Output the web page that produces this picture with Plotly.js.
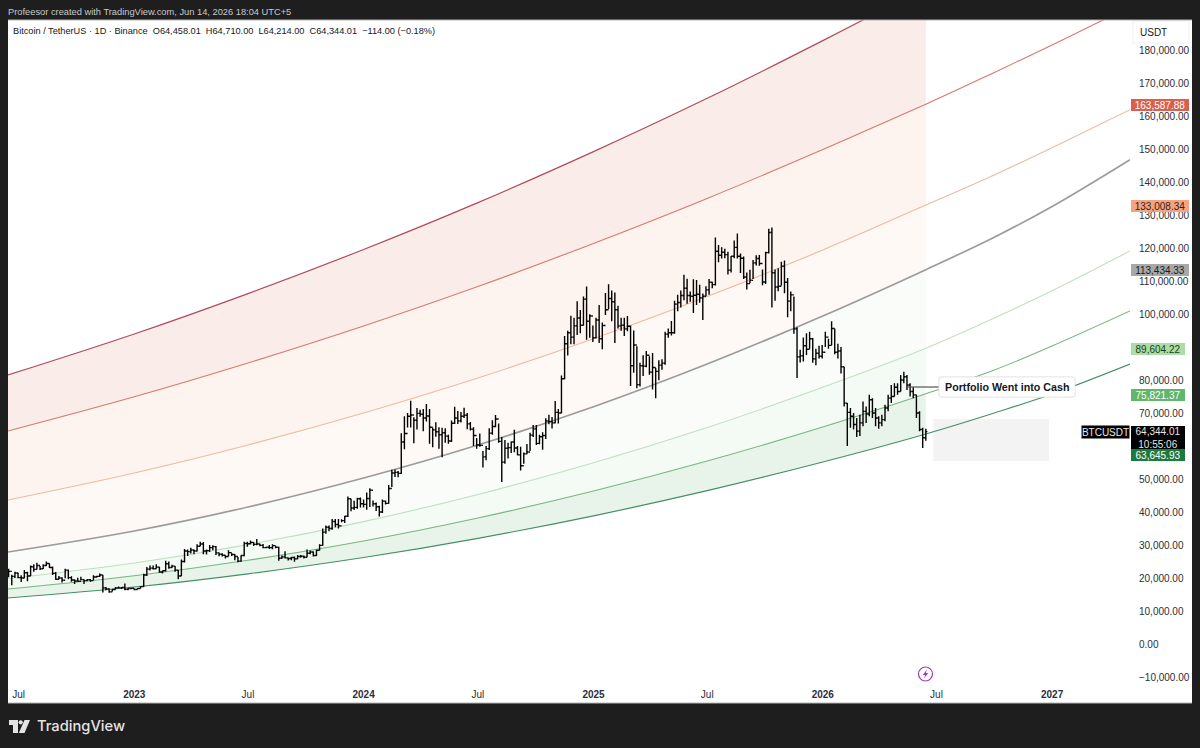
<!DOCTYPE html>
<html><head><meta charset="utf-8">
<script src="https://cdn.plot.ly/plotly-3.0.1.min.js"></script>
<style>html,body{margin:0;padding:0;background:#1e1e1e}#c{width:1200px;height:748px}</style></head>
<body><div id="c"></div>
<script>
// ---- channel curves ----
const curveDates = ['2022-06-14','2023-01-01','2023-07-01','2024-01-01','2024-07-01','2025-01-01','2025-07-01','2026-01-01','2026-06-14','2026-10-01','2027-01-01','2027-05-05'];
const bandTop    = [81515,93939,106182,119545,133758,149212,165363,182848,199091,210303,220212,233848];
const bandRed    = [64545,74909,85151,96363,108333,121394,135030,149818,163587.88,173212,181515,193151];
const bandOrange = [43636,51818,60303,70000,80606,92485,105272,119393,133008.34,142121,150393,161909];
const bandGray   = [27878,34242,41515,50303,60303,71909,84848,99393,113434.33,123272,132575,146757];
const bandLight  = [19788,24545,30121,37090,45303,54909,65606,77787,89604.22,98787,107060,119090];
const bandGreen  = [16666,20666,25363,31212,38181,46363,55454,65757,75821.37,83030,90303,100909];
const bandBottom = [13939,17272,21272,26212,32030,38848,46454,55151,63645.93,70000,75757,84848];
const lastBarIndex = 8;

// ---- BTCUSDT, one bar per 5 days from 2022-06-15, USD thousands ----
const barStart = '2022-06-15';
const opensK = [
22.3,22.0,20.5,21.5,20.1,20.0,21.6,20.6,23.4,22.6,
23.8,22.8,23.8,24.4,23.2,21.4,19.6,20.0,19.3,22.4,
20.1,19.4,19.1,19.0,19.5,19.2,19.5,19.2,20.3,20.5,
20.9,17.0,16.7,15.8,16.5,17.0,17.0,17.1,16.6,16.8,
16.9,16.5,16.8,17.4,20.9,22.7,23.0,22.8,23.3,21.8,
22.2,24.3,23.2,23.6,22.4,20.6,25.0,28.2,28.0,28.5,
28.2,29.6,30.3,28.2,28.3,29.2,29.5,27.6,27.2,26.9,
26.5,27.7,27.1,26.5,25.1,26.8,30.5,30.4,30.8,30.2,
30.3,29.9,29.2,29.3,29.2,29.8,29.3,26.0,26.4,26.1,
25.9,26.2,25.8,26.5,26.6,26.3,27.5,27.9,26.8,28.4,
29.9,33.9,35.4,35.0,37.1,36.2,35.8,37.4,38.7,44.0,
41.2,41.4,44.0,42.5,42.3,44.1,46.6,42.5,41.6,40.0,
43.3,42.6,47.1,51.8,52.0,51.7,61.2,63.8,69.0,69.4,
67.8,69.9,69.6,68.5,69.1,65.7,64.9,64.3,63.4,64.0,
63.0,61.5,66.9,68.5,67.6,69.0,69.3,66.7,65.1,63.2,
60.3,60.2,56.7,59.2,63.9,65.9,68.2,61.4,55.1,59.3,
59.5,61.2,59.4,57.3,54.0,57.6,58.2,63.3,65.2,60.8,
62.8,63.2,67.6,67.4,67.0,70.2,70.0,80.4,91.0,94.3,
93.0,96.4,98.8,96.6,104.5,97.8,99.4,92.8,98.2,92.5,
96.5,101.3,104.7,103.7,101.3,96.4,96.6,95.5,96.3,84.3,
90.6,78.6,84.3,84.2,87.5,82.4,83.8,82.6,84.5,85.1,
93.9,94.3,94.3,103.0,103.5,105.6,107.8,105.6,105.4,105.7,
106.0,104.9,105.4,107.3,109.6,108.9,119.0,117.8,118.7,118.0,
113.3,117.5,120.2,117.5,116.9,111.2,109.2,110.2,115.5,116.8,
115.3,109.7,118.6,124.7,112.5,108.2,108.4,114.5,109.6,103.9,
105.8,95.5,87.0,87.3,90.4,89.3,92.5,86.4,88.1,87.2,
88.4,93.0,90.5,95.6,88.4,88.8,84.0,73.0,70.2,69.0,
66.5,64.5,67.0,70.5,69.7,74.0,70.0,68.5,67.0,68.0,
71.5,74.5,75.0,77.8,76.5,80.0,81.0,78.5,76.5,75.5,
70.0,65.0,62.5];
const highsK = [
22.8,21.0,21.9,21.6,20.8,22.4,21.9,23.8,24.2,24.6,
23.6,24.2,25.0,24.4,23.5,21.8,20.6,20.2,22.8,22.6,
20.5,19.6,20.1,20.4,19.6,19.7,19.7,20.8,20.7,21.4,
20.9,17.3,16.9,16.7,17.3,17.4,17.3,18.3,16.9,16.9,
16.8,16.9,17.5,21.3,23.3,23.8,23.8,24.2,23.4,22.3,
25.2,25.0,24.0,23.6,22.4,25.6,28.8,28.6,29.2,28.6,
30.2,31.0,30.9,28.6,30.0,29.9,29.7,27.7,27.5,26.9,
28.4,27.5,27.3,26.4,26.9,31.0,31.0,31.4,30.9,31.8,
30.4,30.3,29.5,30.0,30.2,29.6,29.5,26.8,28.1,26.2,
26.4,26.5,27.0,27.0,26.8,28.6,28.3,28.0,28.6,30.2,
35.0,35.9,35.9,37.9,37.9,37.9,37.8,38.8,44.7,44.0,
43.4,44.3,44.4,43.8,45.9,47.2,43.5,42.9,41.9,43.8,
43.5,48.2,52.8,52.9,52.4,63.9,69.0,70.0,73.7,68.7,
71.5,71.0,71.2,72.7,71.2,65.5,67.2,65.7,65.5,65.4,
63.4,67.7,71.9,70.6,70.3,71.6,70.0,67.3,65.7,62.4,
63.8,58.5,60.0,65.4,67.8,69.4,66.8,62.7,61.8,61.0,
61.4,64.9,60.0,59.8,58.0,60.6,64.0,66.4,66.4,63.4,
64.2,68.4,69.5,68.8,73.6,71.2,81.4,93.3,94.9,99.5,
98.9,103.9,101.2,105.3,108.3,99.9,96.5,98.9,102.7,97.4,
106.4,109.0,107.1,106.5,102.5,98.9,98.9,99.4,96.5,95.0,
90.2,85.2,87.5,88.8,87.2,88.2,83.6,86.0,86.3,94.6,
95.6,97.9,104.0,105.8,107.1,111.9,110.7,106.8,110.5,110.3,
108.9,106.2,108.4,110.6,109.8,123.2,120.9,120.2,119.8,118.9,
117.6,122.3,124.4,118.3,117.4,112.6,113.4,116.4,117.8,117.9,
113.5,118.9,125.8,126.2,113.5,113.9,115.8,116.2,110.9,106.8,
105.3,96.0,89.2,92.9,94.2,94.6,92.7,89.5,90.4,90.6,
94.6,92.5,97.8,95.5,91.0,90.0,84.0,73.0,71.5,70.0,
68.5,69.5,73.5,72.0,75.5,74.5,71.5,69.0,69.5,72.5,
75.5,78.5,79.0,79.0,81.5,82.5,81.5,79.0,77.8,75.5,
70.5,65.5,65.2];
const lowsK = [
20.2,17.8,20.0,19.9,18.8,19.9,19.0,20.6,21.9,22.6,
22.4,22.7,23.6,23.0,20.9,19.5,19.6,18.6,19.9,19.6,
18.9,18.2,18.9,19.3,18.2,19.0,18.9,19.3,20.1,20.3,
15.6,16.3,15.5,15.9,16.5,16.8,16.7,16.3,16.3,16.6,
16.3,16.5,16.9,17.3,20.6,22.3,22.6,22.8,21.6,21.4,
22.0,22.8,23.0,21.9,19.6,20.6,24.7,26.7,27.4,27.2,
28.0,29.6,27.2,27.1,27.9,28.4,27.0,26.6,26.5,25.9,
26.5,26.7,25.4,24.8,24.9,26.6,29.5,30.2,29.7,29.9,
29.6,29.0,29.0,28.8,28.7,29.0,25.2,25.8,25.9,25.3,
25.4,24.9,25.7,26.1,25.9,26.3,27.2,26.5,26.7,28.3,
29.8,33.4,34.2,34.6,35.4,35.0,36.9,36.7,38.5,40.2,
40.6,41.0,41.4,41.4,40.7,41.5,41.7,40.3,38.6,39.7,
42.3,42.5,47.6,50.6,50.5,51.5,59.0,65.6,65.6,60.8,
65.0,68.9,64.5,67.4,60.7,59.6,62.8,59.2,56.6,61.0,
60.7,61.2,66.7,66.7,67.1,68.5,65.1,64.7,60.0,59.2,
59.8,53.5,55.7,58.8,63.4,65.7,61.0,49.1,54.6,56.2,
57.9,58.1,57.2,52.6,54.6,57.5,58.5,62.7,60.3,60.5,
58.9,62.1,66.6,65.3,66.8,66.8,69.9,80.2,87.4,90.8,
90.8,93.6,94.2,96.5,92.2,92.8,91.5,92.6,91.2,89.3,
99.7,101.5,97.8,91.2,95.6,94.9,93.3,94.8,78.2,82.2,
77.5,78.0,81.2,83.9,81.6,77.1,74.5,79.9,83.1,84.6,
92.8,93.5,94.0,100.8,102.0,104.2,103.1,103.7,100.3,102.7,
103.4,98.2,105.4,105.8,107.8,108.6,115.7,116.8,116.9,112.0,
112.6,116.9,116.8,112.4,110.6,107.4,109.3,110.6,114.7,114.6,
108.7,109.1,118.3,102.0,104.0,106.9,108.6,106.3,99.0,100.8,
94.0,80.6,85.3,85.6,87.6,89.5,85.2,84.5,86.5,86.5,
90.0,89.5,90.5,87.8,86.5,82.0,72.0,60.0,65.5,65.0,
62.7,63.0,66.0,67.0,69.0,68.5,66.0,65.2,66.0,67.5,
70.5,73.0,75.0,75.5,76.5,79.0,77.0,75.0,74.5,68.5,
64.5,59.4,61.6];
const closesK = [
22.0,20.5,21.5,20.1,20.0,21.6,20.6,23.4,22.6,23.8,
22.8,23.8,24.4,23.2,21.4,19.6,20.0,19.3,22.4,20.1,
19.4,19.1,19.0,19.5,19.2,19.5,19.2,20.3,20.5,20.9,
17.0,16.7,15.8,16.5,17.0,17.0,17.1,16.6,16.8,16.9,
16.5,16.8,17.4,20.9,22.7,23.0,22.8,23.3,21.8,22.2,
24.3,23.2,23.6,22.4,20.6,25.0,28.2,28.0,28.5,28.2,
29.6,30.3,28.2,28.3,29.2,29.5,27.6,27.2,26.9,26.5,
27.7,27.1,26.5,25.1,26.8,30.5,30.4,30.8,30.2,30.3,
29.9,29.2,29.3,29.2,29.8,29.3,26.0,26.4,26.1,25.9,
26.2,25.8,26.5,26.6,26.3,27.5,27.9,26.8,28.4,29.9,
33.9,35.4,35.0,37.1,36.2,35.8,37.4,38.7,44.0,41.2,
41.4,44.0,42.5,42.3,44.1,46.6,42.5,41.6,40.0,43.3,
42.6,47.1,51.8,52.0,51.7,61.2,63.8,69.0,69.4,67.8,
69.9,69.6,68.5,69.1,65.7,64.9,64.3,63.4,64.0,63.0,
61.5,66.9,68.5,67.6,69.0,69.3,66.7,65.1,63.2,60.3,
60.2,56.7,59.2,63.9,65.9,68.2,61.4,55.1,59.3,59.5,
61.2,59.4,57.3,54.0,57.6,58.2,63.3,65.2,60.8,62.8,
63.2,67.6,67.4,67.0,70.2,70.0,80.4,91.0,94.3,93.0,
96.4,98.8,96.6,104.5,97.8,99.4,92.8,98.2,92.5,96.5,
101.3,104.7,103.7,101.3,96.4,96.6,95.5,96.3,84.3,90.6,
78.6,84.3,84.2,87.5,82.4,83.8,82.6,84.5,85.1,93.9,
94.3,94.3,103.0,103.5,105.6,107.8,105.6,105.4,105.7,106.0,
104.9,105.4,107.3,109.6,108.9,119.0,117.8,118.7,118.0,113.3,
117.5,120.2,117.5,116.9,111.2,109.2,110.2,115.5,116.8,115.3,
109.7,118.6,124.7,112.5,108.2,108.4,114.5,109.6,103.9,105.8,
95.5,87.0,87.3,90.4,89.3,92.5,86.4,88.1,87.2,88.4,
93.0,90.5,95.6,88.4,88.8,84.0,73.0,70.2,69.0,66.5,
64.5,67.0,70.5,69.7,74.0,70.0,68.5,67.0,68.0,71.5,
74.5,75.0,77.8,76.5,80.0,81.0,78.5,76.5,75.5,70.0,
65.0,62.5,64.344];

// ---- axis ticks ----
const yTickVals = [-10000,0,10000,20000,30000,40000,50000,70000,80000,100000,110000,120000,130000,140000,150000,160000,170000,180000];
const yTickText = ['\u221210,000.00','0.00','10,000.00','20,000.00','30,000.00','40,000.00','50,000.00','70,000.00','80,000.00','100,000.00','110,000.00','120,000.00','130,000.00','140,000.00','150,000.00','160,000.00','170,000.00','180,000.00'];
const xTickVals = ['2022-07-01','2023-01-01','2023-07-01','2024-01-01','2024-07-01','2025-01-01','2025-07-01','2026-01-01','2026-07-01','2027-01-01'];
const xTickText = ['Jul','<b>2023</b>','Jul','<b>2024</b>','Jul','<b>2025</b>','Jul','<b>2026</b>','Jul','<b>2027</b>'];

// ---- texts ----
const headerText = 'Profeesor created with TradingView.com, Jun 14, 2026 18:04 UTC+5';
const legendText = 'Bitcoin / TetherUS \u00b7 1D \u00b7 Binance  O64,458.01  H64,710.00  L64,214.00  C64,344.01  \u2212114.00 (\u22120.18%)';
const calloutText = 'Portfolio Went into Cash';

// ---- layout helpers ----
const W=1200,H=748,L=8,R=1130,T=20,B=703;
const px=x=>(x-L)/(R-L), py=y=>1-(y-T)/(B-T);
const FONT='"Liberation Sans", Arial, sans-serif';
const dates=closesK.map((_,i)=>{const d=new Date(barStart+'T00:00:00Z');d.setUTCDate(d.getUTCDate()+5*i);return d.toISOString().slice(0,10);});
const k=a=>a.map(v=>v*1000);

const lastD=curveDates.slice(0,lastBarIndex+1);
const bandFills=[[bandBottom,null],[bandGreen,'#e8f4ea'],[bandLight,'#f4faf4'],[bandGray,'#f9fcf9'],[bandOrange,'#fff9f5'],[bandRed,'#fef4ef'],[bandTop,'#f9ece9']];
const traces=[];
bandFills.forEach(([arr,col])=>traces.push({x:lastD,y:arr.slice(0,lastBarIndex+1),type:'scatter',mode:'lines',
  line:{width:0,shape:'spline',smoothing:1},fill:col?'tonexty':'none',fillcolor:col||undefined,hoverinfo:'skip',showlegend:false}));
[[bandTop,'#b04a5e',1.2],[bandRed,'#d9776f',1.1],[bandOrange,'#eeb9a2',1.1],[bandGray,'#9b9b9b',1.7],[bandLight,'#c0e0c0',1.1],[bandGreen,'#79b582',1.1],[bandBottom,'#468f66',1.2]]
 .forEach(([arr,col,w])=>traces.push({x:curveDates,y:arr,type:'scatter',mode:'lines',line:{color:col,width:w,shape:'spline',smoothing:1},hoverinfo:'skip',showlegend:false}));
traces.push({x:dates,open:k(opensK),high:k(highsK),low:k(lowsK),close:k(closesK),type:'ohlc',xaxis:'x2',yaxis:'y2',tickwidth:0.5,
  increasing:{line:{color:'#000',width:1.4}},decreasing:{line:{color:'#000',width:1.4}},hoverinfo:'skip',showlegend:false});

function priceTag(yPx,text,bg,fg,wide,h){
  const w=wide?58:54;
  return {xref:'paper',yref:'paper',x:px(1131),y:py(yPx),xanchor:'left',yanchor:'middle',text:text,showarrow:false,
    width:w,height:h||12,align:'center',bgcolor:bg,borderpad:0,borderwidth:0,font:{family:FONT,size:10,color:fg}};
}
const ann=[
 {xref:'paper',yref:'paper',x:px(6),y:py(12),xanchor:'left',yanchor:'middle',text:headerText,showarrow:false,font:{family:FONT,size:9.3,color:'#c9c9c9'}},
 {xref:'paper',yref:'paper',x:px(11),y:py(31),xanchor:'left',yanchor:'middle',text:legendText.replace(/  /g,'&nbsp;&nbsp;'),showarrow:false,font:{family:FONT,size:9.2,color:'#131722'}},
 {xref:'paper',yref:'paper',x:px(1138),y:py(32),xanchor:'left',yanchor:'middle',text:'USDT',showarrow:false,font:{family:FONT,size:10,color:'#131722'}},
 {xref:'paper',yref:'paper',x:px(1007),y:py(387),xanchor:'center',yanchor:'middle',text:'<b>'+calloutText+'</b>',showarrow:false,font:{family:FONT,size:10.7,color:'#131722'}},
 {xref:'paper',yref:'paper',x:px(35),y:py(726),xanchor:'left',yanchor:'middle',text:'TradingView',showarrow:false,font:{family:'Inter, Roboto, sans-serif',size:14.7,color:'#e4e4e4',weight:500}},
 priceTag(105,'163,587.88','#d9604c','#fff',true),
 priceTag(206,'133,008.34','#f4a482','#3a1c10',true),
 priceTag(270,'113,434.33','#a8a8a8','#1c1c1c',true),
 priceTag(349,'89,604.22','#abdda6','#1d3d1d',false),
 priceTag(395,'75,821.37','#5fb66c','#fff',false),
 priceTag(437.5,'64,344.01<br>10:55:06','#000','#e6e6e6',false,23),
 priceTag(455,'63,645.93','#1b7a3e','#fff',false),
 {xref:'paper',yref:'paper',x:px(1105.5),y:py(432),xanchor:'center',yanchor:'middle',width:47,height:12,bgcolor:'#000',text:'BTCUSDT',showarrow:false,borderpad:0,font:{family:FONT,size:10,color:'#e6e6e6'}}
];

const rr=(x0,y0,x1,y1,r)=>`M${px(x0+r)},${py(y0)} L${px(x1-r)},${py(y0)} Q${px(x1)},${py(y0)} ${px(x1)},${py(y0+r)} L${px(x1)},${py(y1-r)} Q${px(x1)},${py(y1)} ${px(x1-r)},${py(y1)} L${px(x0+r)},${py(y1)} Q${px(x0)},${py(y1)} ${px(x0)},${py(y1-r)} L${px(x0)},${py(y0+r)} Q${px(x0)},${py(y0)} ${px(x0+r)},${py(y0)} Z`;
const poly=pts=>'M'+pts.map(p=>px(p[0])+','+py(p[1])).join(' L')+' Z';
const pa={xref:'paper',yref:'paper'};
const shapes=[
 {...pa,type:'rect',x0:px(R),x1:px(1192),y0:py(B),y1:py(T),fillcolor:'#fff',line:{width:0},layer:'below'},
 {...pa,type:'rect',x0:px(1133),x1:px(1189),y0:py(43),y1:py(21),fillcolor:'#fff',line:{color:'#f0f0f0',width:1},layer:'below'},
 {...pa,type:'line',x0:px(8),x1:px(1192),y0:py(703),y1:py(703),line:{color:'#b4b4b4',width:1}},
 {...pa,type:'line',x0:px(8),x1:px(1192),y0:py(20),y1:py(20),line:{color:'#b4b4b4',width:1}},
 {xref:'x',yref:'y',type:'rect',x0:'2026-06-26',x1:'2026-12-27',y0:55450,y1:68200,fillcolor:'#f3f3f3',line:{width:0},layer:'below'},
 {...pa,type:'line',x0:px(907),x1:px(939),y0:py(387),y1:py(387),line:{color:'#555',width:1.2}},
 {...pa,type:'path',path:rr(938,376,1076,398,4),fillcolor:'rgba(0,0,0,0.07)',line:{width:0}},
 {...pa,type:'path',path:rr(939,377,1075,397,4),fillcolor:'#fff',line:{color:'#ececec',width:1}},
 {...pa,type:'circle',x0:px(918.5),x1:px(932.5),y0:py(681),y1:py(667),fillcolor:'rgba(0,0,0,0)',line:{color:'#9c3fb0',width:1.2}},
 {...pa,type:'path',path:poly([[927,669.5],[922.7,675],[925.2,675],[924,678.5],[928.3,673],[925.8,673]]),fillcolor:'#9c3fb0',line:{width:0}},
 {...pa,type:'path',path:poly([[9,720],[18,720],[18,733],[13,733],[13,725],[9,725]]),fillcolor:'#e4e4e4',line:{width:0}},
 {...pa,type:'circle',x0:px(18.6),x1:px(22.8),y0:py(724.4),y1:py(720.2),fillcolor:'#e4e4e4',line:{width:0}},
 {...pa,type:'path',path:poly([[24.5,720],[30,720],[24.5,733],[18.8,733]]),fillcolor:'#e4e4e4',line:{width:0}}
];
const xRange=['2022-06-14','2027-05-05'], yRange=[-17879,189091];

Plotly.newPlot('c',traces,{
  width:W,height:H,paper_bgcolor:'#1e1e1e',plot_bgcolor:'#ffffff',
  margin:{l:L,r:W-R,t:T,b:H-B,pad:0},showlegend:false,dragmode:false,
  font:{family:FONT},
  xaxis:{type:'date',range:xRange,rangeslider:{visible:false},tickmode:'array',tickvals:xTickVals,ticktext:xTickText,
    ticklabelposition:'inside',ticks:'',showgrid:false,zeroline:false,showline:false,tickfont:{family:FONT,size:10,color:'#2a2e39'},automargin:false},
  yaxis:{range:yRange,side:'right',tickmode:'array',tickvals:yTickVals,ticktext:yTickText,ticks:'outside',ticklen:6,tickcolor:'rgba(0,0,0,0)',
    showgrid:false,zeroline:false,showline:false,tickfont:{family:FONT,size:10,color:'#2a2e39'},automargin:false},
  xaxis2:{type:'date',range:xRange,overlaying:'x',visible:false,rangeslider:{visible:false}},
  yaxis2:{range:yRange,overlaying:'y',side:'right',visible:false},
  shapes:shapes,annotations:ann
},{staticPlot:true,displayModeBar:false});
</script></body></html>
